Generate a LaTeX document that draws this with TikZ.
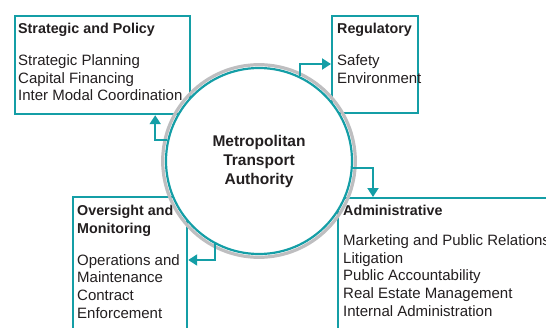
\documentclass[tikz,border=0pt]{standalone}
\usepackage{fontspec}
\setmainfont{Liberation Sans}
\usetikzlibrary{arrows.meta}
\definecolor{tealc}{RGB}{20,158,166}
\definecolor{ringgray}{RGB}{190,190,192}
\definecolor{txt}{RGB}{35,31,32}
\tikzset{
  box/.style={draw=tealc, line width=2.2bp, fill=white, inner sep=0pt, anchor=north west},
  boxtext/.style={anchor=north west, inner sep=0pt, align=left, text=txt,
    font=\fontsize{15bp}{17.8bp}\selectfont},
  ttl/.style={font=\bfseries\fontsize{14.3bp}{17.8bp}\selectfont},
  arr/.style={draw=tealc, line width=2bp, -{Triangle[length=9bp,width=11bp]}},
}
\newcommand{\ttlf}{\bfseries\fontsize{14.3bp}{17.8bp}\selectfont}
\begin{document}
\begin{tikzpicture}[x=1bp,y=1bp]
\useasboundingbox (0,0) rectangle (546,327);
\clip (0,0) rectangle (546,327);
% boxes
\node[box, minimum width=175bp, minimum height=98bp] (strat) at (14,312) {};
\node[box, minimum width=86bp, minimum height=97bp] (reg) at (331,312) {};
\node[box, minimum width=230bp, minimum height=170bp] (admin) at (337,130) {};
\node[box, minimum width=114bp, minimum height=170bp] (over) at (72,131) {};
% texts
\node[boxtext] (stratt) at (18,304) {{\ttlf Strategic and Policy}\\[14bp]Strategic Planning\\Capital Financing\\Inter Modal Coordination};
\node[boxtext] (regt) at (337,304) {{\ttlf Regulatory}\\[14bp]Safety\\Environment};
\node[boxtext] (admint) at (343,122) {{\ttlf Administrative}\\[12bp]Marketing and Public Relations\\Litigation\\Public Accountability\\Real Estate Management\\Internal Administration};
\node[boxtext] (overt) at (77,122) {{\ttlf Oversight and}\\{\ttlf Monitoring}\\[14bp]Operations and\\Maintenance\\Contract\\Enforcement};
% central circle
\node[circle, draw=tealc, line width=2.2bp, fill=white, minimum size=186bp, inner sep=0pt,
  align=center, text=txt, font=\bfseries\fontsize{15.5bp}{19bp}\selectfont] (mta) at (259,166)
  {Metropolitan\\Transport\\Authority};
\draw[ringgray, line width=3.2bp] (mta.center) circle (96.3bp);
% connectors
\draw[arr] (mta.167) -| ([xshift=-36bp]strat.south east);
\draw[arr] (mta.64) |- ([yshift=-49bp]reg.north west);
\draw[arr] (mta.-4) -| ([xshift=36bp]admin.north west);
\draw[arr] (mta.-118) |- ([yshift=-64bp]over.north east);
\end{tikzpicture}
\end{document}
